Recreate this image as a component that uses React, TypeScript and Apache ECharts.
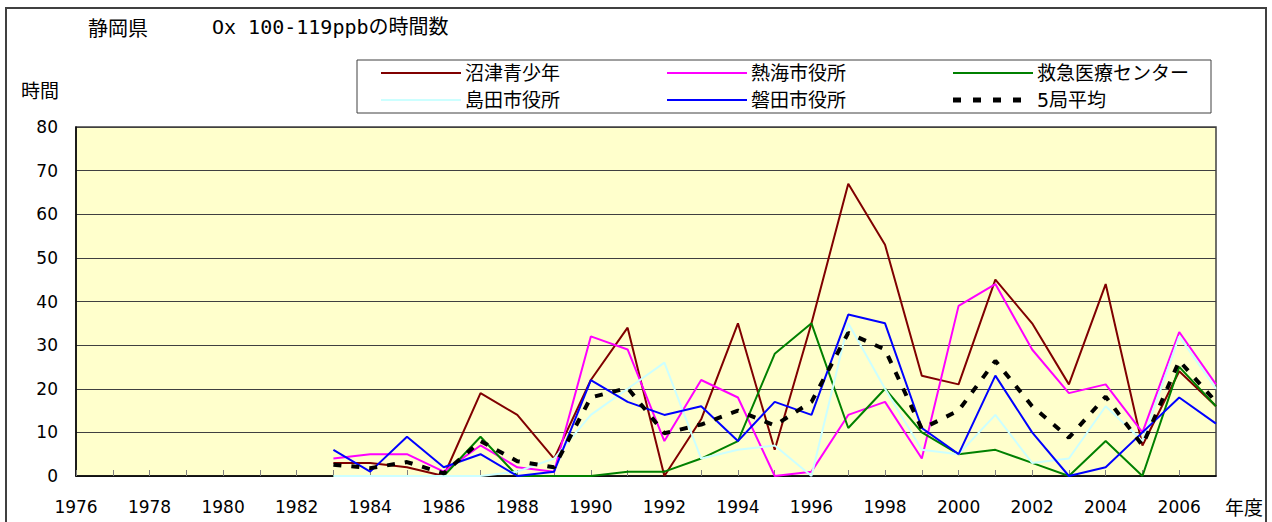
import React, { useEffect, useRef } from "react";
import * as echarts from "echarts";

const years = [1983, 1984, 1985, 1986, 1987, 1988, 1989, 1990, 1991, 1992, 1993, 1994, 1995, 1996, 1997, 1998, 1999, 2000, 2001, 2002, 2003, 2004, 2005, 2006, 2007];
const numazu = [3, 3, 2, 0, 19, 14, 4, 22, 34, 0, 13, 35, 6, 35, 67, 53, 23, 21, 45, 35, 21, 44, 7, 24, 16];
const atami = [4, 5, 5, 1, 7, 2, 1, 32, 29, 8, 22, 18, 0, 1, 14, 17, 4, 39, 44, 29, 19, 21, 10, 33, 21];
const kyukyu = [0, 0, 0, 0, 9, 0, 0, 0, 1, 1, 4, 8, 28, 35, 11, 20, 10, 5, 6, 3, 0, 8, 0, 25, 16];
const shimada = [0, 0, 0, 0, 0, 1, 4, 14, 20, 26, 4, 6, 7, 0, 35, 20, 6, 5, 14, 3, 4, 16, 8, 32, 20];
const iwata = [6, 1, 9, 2, 5, 0, 1, 22, 17, 14, 16, 8, 17, 14, 37, 35, 11, 5, 23, 10, 0, 2, 10, 18, 12];
const avg5 = [2.6, 1.8, 3.2, 0.6, 8.0, 3.4, 2.0, 18, 20.2, 9.8, 11.8, 15, 11.6, 17, 32.8, 29, 10.8, 15, 26.4, 16, 8.8, 18.2, 7, 26.4, 17];

const seriesNames = ["沼津青少年", "熱海市役所", "救急医療センター", "島田市役所", "磐田市役所", "5局平均"];
const seriesData = [numazu, atami, kyukyu, shimada, iwata, avg5];
const seriesColors = ["#800000", "#FF00FF", "#008000", "#CCFFFF", "#0000FF", "#000000"];

const titlePref = "静岡県";
const titleMain = "Ox 100-119ppbの時間数";
const yName = "時間";
const xName = "年度";

const CJK = "'Noto Sans CJK JP', sans-serif";
const NUM = "'DejaVu Sans', 'Noto Sans CJK JP', sans-serif";

export default function App() {
  const ref = useRef<HTMLDivElement>(null);
  useEffect(() => {
    if (!ref.current) return;
    const chart = echarts.init(ref.current, undefined, { renderer: "svg" });

    const series = seriesNames.map((name, i) => {
      const isAvg = i === 5;
      return {
        name,
        type: "line",
        data: years.map((y, k) => [y, seriesData[i][k]]),
        symbol: "none",
        showSymbol: false,
        lineStyle: {
          color: seriesColors[i],
          width: isAvg ? 4 : 2,
          type: isAvg ? [8, 10] : "solid",
          cap: "butt",
        },
        itemStyle: { color: seriesColors[i] },
        z: isAvg ? 5 : 3,
      };
    });

    // legend drawn as graphic: 3 columns x 2 rows
    const legendCols = [381, 667, 953];
    const legendRows = [73, 100];
    const legendOrder = [
      [0, 3],
      [1, 4],
      [2, 5],
    ];
    const legendEls: any[] = [];
    legendOrder.forEach((col, ci) => {
      col.forEach((si, ri) => {
        const x0 = legendCols[ci];
        const y0 = legendRows[ri];
        const isAvg = si === 5;
        legendEls.push({
          type: "line",
          shape: { x1: x0, y1: y0, x2: x0 + 80, y2: y0 },
          style: {
            stroke: seriesColors[si],
            lineWidth: isAvg ? 5 : 2,
            lineDash: isAvg ? [8, 12] : null,
          },
          z: 101,
        });
        legendEls.push({
          type: "text",
          x: x0 + 84,
          y: y0,
          style: {
            text: seriesNames[si],
            fill: "#000",
            font: `19px ${NUM}`,
            verticalAlign: "middle",
          },
          z: 101,
        });
      });
    });

    chart.setOption({
      animation: false,
      backgroundColor: "#FFFFFF",
      grid: {
        left: 76,
        right: 56,
        top: 127,
        bottom: 46,
        show: true,
        backgroundColor: "#FFFFCC",
        borderColor: "#404040",
        borderWidth: 1.5,
      },
      xAxis: {
        type: "value",
        min: 1976,
        max: 2007,
        interval: 1,
        axisLine: { show: true, lineStyle: { color: "#000", width: 1.5 } },
        axisTick: { show: true, inside: true, length: 6, lineStyle: { color: "#808080" } },
        splitLine: { show: false },
        axisLabel: {
          margin: 22,
          color: "#000",
          fontSize: 17,
          fontFamily: NUM,
          showMaxLabel: false,
          formatter: (v: number) => (v % 2 === 0 && v < 2007 ? String(v) : ""),
        },
      },
      yAxis: {
        type: "value",
        min: 0,
        max: 80,
        interval: 10,
        axisLine: { show: true, lineStyle: { color: "#000", width: 1.5 } },
        axisTick: { show: false },
        splitLine: { show: true, lineStyle: { color: "#404040", width: 1 } },
        axisLabel: { margin: 18, color: "#000", fontSize: 17, fontFamily: NUM },
      },
      series,
      graphic: [
        {
          type: "rect",
          shape: { x: 6, y: 8, width: 1260, height: 540 },
          style: { fill: "none", stroke: "#404040", lineWidth: 2 },
          z: 100,
          silent: true,
        },
        {
          type: "text",
          x: 88,
          y: 27,
          style: { text: titlePref, fill: "#000", font: `20px ${CJK}`, verticalAlign: "middle" },
          z: 101,
        },
        {
          type: "text",
          x: 212,
          y: 27,
          style: { text: titleMain, fill: "#000", font: `20px 'DejaVu Sans Mono', 'Noto Sans CJK JP', monospace`, verticalAlign: "middle" },
          z: 101,
        },
        {
          type: "text",
          x: 21,
          y: 89,
          style: { text: yName, fill: "#000", font: `19px ${CJK}`, verticalAlign: "middle" },
          z: 101,
        },
        {
          type: "text",
          x: 1225,
          y: 506,
          style: { text: xName, fill: "#000", font: `19px ${CJK}`, verticalAlign: "middle" },
          z: 101,
        },
        {
          type: "rect",
          shape: { x: 357, y: 60, width: 854, height: 53 },
          style: { fill: "#FFFFFF", stroke: "#404040", lineWidth: 1 },
          z: 100,
        },
        ...legendEls,
      ],
    });
    return () => chart.dispose();
  }, []);
  return <div ref={ref} style={{ position: "fixed", left: 0, top: 0, width: 1272, height: 522 }} />;
}
